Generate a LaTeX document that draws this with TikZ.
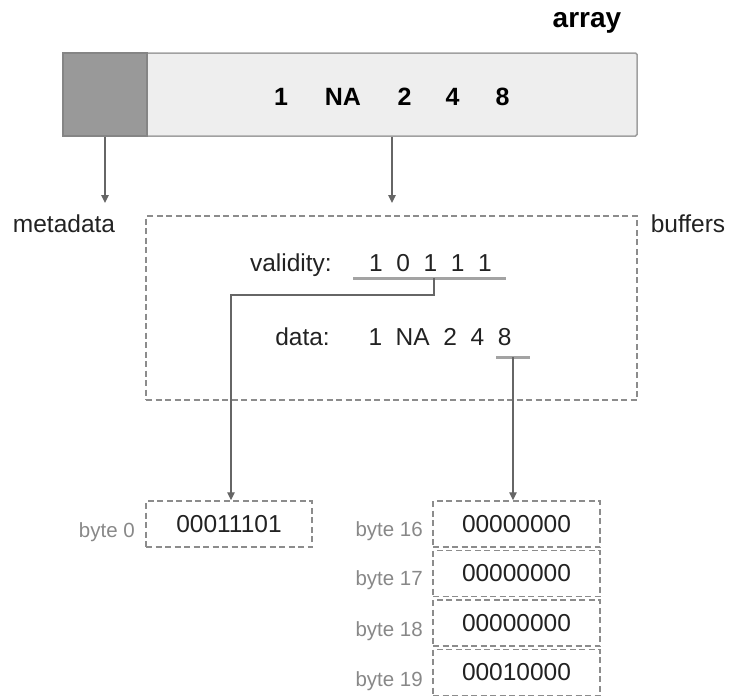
\documentclass[tikz,border=0pt]{standalone}
\usepackage{fontspec}
\setmainfont{Liberation Sans}
\usetikzlibrary{arrows.meta}
\definecolor{inkdark}{HTML}{222222}
\definecolor{barfill}{HTML}{EEEEEE}
\definecolor{barline}{HTML}{A0A0A0}
\definecolor{metafill}{HTML}{999999}
\definecolor{metaline}{HTML}{858585}
\definecolor{wire}{HTML}{666666}
\definecolor{dashgray}{HTML}{8C8C8C}
\definecolor{bytegray}{HTML}{888888}
\definecolor{ulgray}{HTML}{A3A3A3}

\begin{document}
\begin{tikzpicture}[x=1pt,y=-1pt,
  lbl/.style={inner sep=0pt, anchor=base, text=inkdark, font=\fontsize{24.5}{29}\selectfont},
  boldlbl/.style={inner sep=0pt, anchor=base, text=black, font=\fontsize{25}{30}\selectfont\bfseries},
  bytelbl/.style={inner sep=0pt, anchor=base east, text=bytegray, font=\fontsize{20.5}{24}\selectfont},
  dashbox/.style={draw=dashgray, line width=1.4pt, dash pattern=on 6pt off 3.5pt, inner sep=0pt},
  bytebox/.style={dashbox, minimum width=167pt, minimum height=46pt, text=inkdark, font=\fontsize{24.5}{29}\selectfont},
  conn/.style={draw=wire, line width=1.3pt, -{Triangle[length=8pt,width=7.5pt]}},
  ulbar/.style={draw=ulgray, line width=3pt},
]
\useasboundingbox (0,0) rectangle (729,696);

% the array: metadata block followed by the values
\node[draw=barline, fill=barfill, line width=1.5pt, rounded corners=1.5pt,
      minimum width=574pt, minimum height=83pt, inner sep=0pt] (bar) at (350,94.5) {};
\node[draw=metaline, fill=metafill, line width=1.5pt, minimum width=84pt,
      minimum height=83pt, inner sep=0pt] (meta) at (105,94.5) {};
\node[boldlbl] (e1) at (281,105) {1};
\node[boldlbl] (e2) at (343,105) {NA};
\node[boldlbl] (e3) at (404.5,105) {2};
\node[boldlbl] (e4) at (452.5,105) {4};
\node[boldlbl] (e5) at (502.5,105) {8};
\node[boldlbl, font=\fontsize{28}{32}\selectfont\bfseries] (title) at (587,27.5) {array};

% arrows down to metadata and buffers
\coordinate (metaend) at (105,203);
\coordinate (bufend) at (392,203);
\draw[conn] (meta.south) -- (metaend);
\draw[conn] (bar.south -| bufend) -- (bufend);

\node[lbl] (metalbl) at (64,232) {metadata};
\node[lbl] (buflbl) at (688,232) {buffers};

% buffers
\node[dashbox, minimum width=491pt, minimum height=184pt] (buf) at (391.5,308) {};
\node[lbl, anchor=base east] (vallbl) at (332,271) {validity:};
\node[lbl] (bits) at (430.5,271) {1~~0~~1~~1~~1};
\node[lbl, anchor=base east] (datalbl) at (330,345.7) {data:};
\node[lbl] (vals) at (440,345.7) {1~~NA~~2~~4~~8};

\coordinate (ulL) at (353,278);
\coordinate (ulR) at (506,278);
\draw[ulbar] (ulL) -- (ulR);
\coordinate (dL) at (496,357);
\coordinate (dR) at (530,357);
\draw[ulbar] (dL) -- (dR);

% memory bytes
\node[bytebox, minimum width=166pt] (byte0) at (229,524) {00011101};
\node[bytebox] (byte16) at (516.5,524) {00000000};
\node[bytebox] (byte17) at (516.5,573.5) {00000000};
\node[bytebox] (byte18) at (516.5,623) {00000000};
\node[bytebox] (byte19) at (516.5,672.5) {00010000};

\node[bytelbl] (b0lbl) at (135,537) {byte 0};
\node[bytelbl] (b16lbl) at (423,536) {byte 16};
\node[bytelbl] (b17lbl) at (423,585) {byte 17};
\node[bytelbl] (b18lbl) at (423,636) {byte 18};
\node[bytelbl] (b19lbl) at (423,686) {byte 19};

% connectors from the buffers to their bytes
\coordinate (valtap) at (434,278);
\coordinate (valbend) at (231,295);
\draw[conn] (valtap) |- (valbend) -- (valbend |- byte0.north);
\coordinate (datatap) at (513,357);
\draw[conn] (datatap) -- (datatap |- byte16.north);
\end{tikzpicture}
\end{document}
